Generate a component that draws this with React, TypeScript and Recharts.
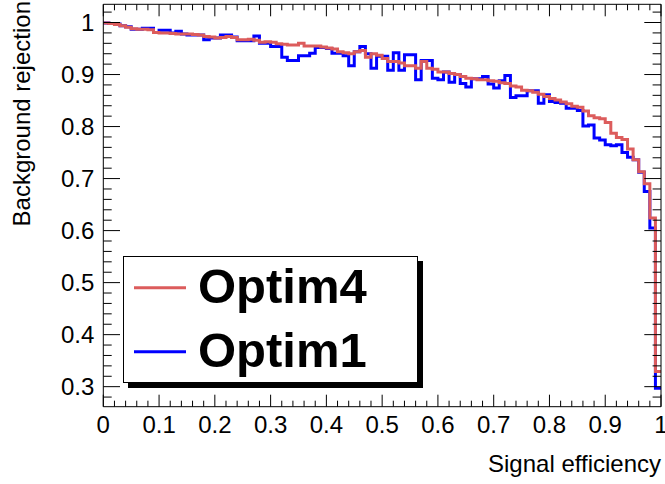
import React from 'react';
import { LineChart, Line, XAxis, YAxis, Legend } from 'recharts';

const W = 665;
const H = 484;
const PL = 103.3;
const PR = 661;
const PT = 4.3;
const PB = 406.7;
const AX = 1; // thickness reserved by each axis
const FONT = '"Liberation Sans", Arial, Helvetica, sans-serif';

// bin edges (100 bins on [0,1]); last edge repeats the last bin value for the step outline
const binEdges = [
  0, 0.01, 0.02, 0.03, 0.04, 0.05, 0.06, 0.07, 0.08, 0.09,
  0.1, 0.11, 0.12, 0.13, 0.14, 0.15, 0.16, 0.17, 0.18, 0.19,
  0.2, 0.21, 0.22, 0.23, 0.24, 0.25, 0.26, 0.27, 0.28, 0.29,
  0.3, 0.31, 0.32, 0.33, 0.34, 0.35, 0.36, 0.37, 0.38, 0.39,
  0.4, 0.41, 0.42, 0.43, 0.44, 0.45, 0.46, 0.47, 0.48, 0.49,
  0.5, 0.51, 0.52, 0.53, 0.54, 0.55, 0.56, 0.57, 0.58, 0.59,
  0.6, 0.61, 0.62, 0.63, 0.64, 0.65, 0.66, 0.67, 0.68, 0.69,
  0.7, 0.71, 0.72, 0.73, 0.74, 0.75, 0.76, 0.77, 0.78, 0.79,
  0.8, 0.81, 0.82, 0.83, 0.84, 0.85, 0.86, 0.87, 0.88, 0.89,
  0.9, 0.91, 0.92, 0.93, 0.94, 0.95, 0.96, 0.97, 0.98, 0.99,
  1.0,
];

const optim4 = [
  0.999, 0.998, 0.996, 0.994, 0.991, 0.988, 0.987, 0.987, 0.986, 0.981,
  0.980, 0.980, 0.979, 0.978, 0.978, 0.978, 0.977, 0.976, 0.973, 0.972,
  0.970, 0.971, 0.973, 0.971, 0.967, 0.967, 0.968, 0.966, 0.962, 0.963,
  0.962, 0.959, 0.958, 0.957, 0.957, 0.960, 0.955, 0.955, 0.955, 0.953,
  0.951, 0.949, 0.944, 0.942, 0.940, 0.944, 0.946, 0.933, 0.940, 0.937,
  0.931, 0.925, 0.925, 0.922, 0.917, 0.917, 0.912, 0.925, 0.912, 0.910,
  0.905, 0.905, 0.902, 0.900, 0.896, 0.893, 0.892, 0.890, 0.890, 0.888,
  0.887, 0.884, 0.883, 0.878, 0.876, 0.870, 0.869, 0.866, 0.862, 0.858,
  0.854, 0.851, 0.847, 0.844, 0.839, 0.837, 0.830, 0.821, 0.817, 0.815,
  0.808, 0.787, 0.779, 0.775, 0.757, 0.736, 0.713, 0.690, 0.624, 0.329,
];

const optim1 = [
  0.999, 0.998, 0.997, 0.994, 0.992, 0.987, 0.987, 0.989, 0.989, 0.981,
  0.985, 0.985, 0.980, 0.983, 0.978, 0.976, 0.976, 0.976, 0.967, 0.970,
  0.970, 0.976, 0.976, 0.972, 0.965, 0.965, 0.965, 0.974, 0.960, 0.960,
  0.954, 0.954, 0.933, 0.927, 0.927, 0.936, 0.936, 0.941, 0.952, 0.952,
  0.950, 0.941, 0.941, 0.936, 0.917, 0.944, 0.954, 0.940, 0.912, 0.935,
  0.935, 0.908, 0.942, 0.908, 0.938, 0.938, 0.890, 0.927, 0.927, 0.893,
  0.890, 0.905, 0.885, 0.900, 0.883, 0.876, 0.892, 0.892, 0.896, 0.882,
  0.874, 0.888, 0.898, 0.856, 0.859, 0.859, 0.869, 0.869, 0.845, 0.861,
  0.848, 0.846, 0.845, 0.835, 0.835, 0.831, 0.801, 0.803, 0.778, 0.774,
  0.765, 0.763, 0.765, 0.750, 0.741, 0.736, 0.712, 0.675, 0.605, 0.297,
];

const seriesNames = ['Optim4', 'Optim1'];
const seriesColors = ['#dc5c5c', '#0000ff'];

const xMajorTicks = [0, 0.1, 0.2, 0.3, 0.4, 0.5, 0.6, 0.7, 0.8, 0.9, 1];
const xTickLabels = ['0', '0.1', '0.2', '0.3', '0.4', '0.5', '0.6', '0.7', '0.8', '0.9', '1'];
const yMajorTicks = [0.3, 0.4, 0.5, 0.6, 0.7, 0.8, 0.9, 1];
const yTickLabels = ['0.3', '0.4', '0.5', '0.6', '0.7', '0.8', '0.9', '1'];
const xTitle = 'Signal efficiency';
const yTitle = 'Background rejection';
const xDomain = [0, 1];
const yDomain = [0.2615, 1.035];

const xAllTicks = Array.from({ length: 51 }, (_, i) => +(i * 0.02).toFixed(2));
const yAllTicks = Array.from({ length: 38 }, (_, i) => +(0.28 + i * 0.02).toFixed(2));

const data = binEdges.map((x, i) => ({
  x,
  optim4: optim4[Math.min(i, optim4.length - 1)],
  optim1: optim1[Math.min(i, optim1.length - 1)],
}));

const majorIndex = (list: number[], v: number) => list.findIndex((t) => Math.abs(t - v) < 1e-6);

const XBottomTick = (props: any) => {
  const { x, y, payload } = props;
  const idx = majorIndex(xMajorTicks, payload.value);
  const major = idx >= 0;
  return (
    <g>
      <line x1={x} x2={x} y1={y} y2={y - (major ? 12 : 6)} stroke="#000" strokeWidth={1} />
      {major && (
        <text x={x} y={y + 26} textAnchor="middle" fontSize={24} fontFamily={FONT} fill="#000">
          {xTickLabels[idx]}
        </text>
      )}
    </g>
  );
};

const XTopTick = (props: any) => {
  const { x, y, payload } = props;
  const major = majorIndex(xMajorTicks, payload.value) >= 0;
  return <line x1={x} x2={x} y1={y} y2={y + (major ? 12 : 6)} stroke="#000" strokeWidth={1} />;
};

const YLeftTick = (props: any) => {
  const { x, y, payload } = props;
  const idx = majorIndex(yMajorTicks, payload.value);
  const major = idx >= 0;
  return (
    <g>
      <line x1={x} x2={x + (major ? 16.7 : 8.4)} y1={y} y2={y} stroke="#000" strokeWidth={1} />
      {major && (
        <text x={x - 9} y={y + 8.5} textAnchor="end" fontSize={24} fontFamily={FONT} fill="#000">
          {yTickLabels[idx]}
        </text>
      )}
    </g>
  );
};

const YRightTick = (props: any) => {
  const { x, y, payload } = props;
  const major = majorIndex(yMajorTicks, payload.value) >= 0;
  return <line x1={x} x2={x - (major ? 16.7 : 8.4)} y1={y} y2={y} stroke="#000" strokeWidth={1} />;
};

const XTitle = () => (
  <text x={PR} y={472} textAnchor="end" fontSize={24} fontFamily={FONT} fill="#000">
    {xTitle}
  </text>
);

const YTitle = () => (
  <text transform="translate(29.5, 1) rotate(-90)" x={0} y={0} textAnchor="end" fontSize={24} fontFamily={FONT} fill="#000">
    {yTitle}
  </text>
);

const LegendBox = (props: any) => {
  const payload = (props.payload || []).slice();
  payload.sort((a: any, b: any) => seriesNames.indexOf(a.value) - seriesNames.indexOf(b.value));
  return (
    <div
      style={{
        position: 'relative',
        width: 295,
        height: 127,
        background: '#fff',
        border: '1px solid #000',
        boxShadow: '5px 5px 0 0 #000',
        boxSizing: 'border-box',
      }}
    >
      <svg width={295} height={127} style={{ position: 'absolute', left: -1, top: -1 }}>
        {payload.map((p: any, i: number) => {
          const ly = 31.7 + i * 64;
          return (
            <g key={p.value}>
              <line x1={11} x2={63} y1={ly} y2={ly} stroke={p.color} strokeWidth={3} />
              <text x={75} y={ly + 15} fontSize={49} fontWeight="bold" fontFamily={FONT} fill="#000">
                {p.value}
              </text>
            </g>
          );
        })}
      </svg>
    </div>
  );
};

export default function App() {
  return (
    <div style={{ position: 'absolute', left: 0, top: 0, width: W, height: H, background: '#fff' }}>
      <LineChart
        width={W}
        height={H}
        data={data}
        margin={{ top: PT - AX, right: W - PR - AX, bottom: H - PB - AX, left: PL - AX }}
      >
        <XAxis
          xAxisId="b"
          dataKey="x"
          type="number"
          domain={xDomain}
          ticks={xAllTicks}
          interval={0}
          height={AX}
          tickSize={0}
          tickMargin={0}
          tickLine={false}
          tick={XBottomTick}
          axisLine={{ stroke: '#000', strokeWidth: 1 }}
          allowDataOverflow
          label={{ content: XTitle }}
        />
        <XAxis
          xAxisId="t"
          orientation="top"
          dataKey="x"
          type="number"
          domain={xDomain}
          ticks={xAllTicks}
          interval={0}
          height={AX}
          tickSize={0}
          tickMargin={0}
          tickLine={false}
          tick={XTopTick}
          axisLine={{ stroke: '#000', strokeWidth: 1 }}
          allowDataOverflow
        />
        <YAxis
          yAxisId="l"
          type="number"
          domain={yDomain}
          ticks={yAllTicks}
          interval={0}
          width={AX}
          tickSize={0}
          tickMargin={0}
          tickLine={false}
          tick={YLeftTick}
          axisLine={{ stroke: '#000', strokeWidth: 1 }}
          allowDataOverflow
          label={{ content: YTitle }}
        />
        <YAxis
          yAxisId="r"
          orientation="right"
          type="number"
          domain={yDomain}
          ticks={yAllTicks}
          interval={0}
          width={AX}
          tickSize={0}
          tickMargin={0}
          tickLine={false}
          tick={YRightTick}
          axisLine={{ stroke: '#000', strokeWidth: 1 }}
          allowDataOverflow
        />
        <Line
          xAxisId="b"
          yAxisId="l"
          type="stepAfter"
          dataKey="optim1"
          name={seriesNames[1]}
          stroke={seriesColors[1]}
          strokeWidth={3}
          dot={false}
          activeDot={false}
          isAnimationActive={false}
        />
        <Line
          xAxisId="b"
          yAxisId="l"
          type="stepAfter"
          dataKey="optim4"
          name={seriesNames[0]}
          stroke={seriesColors[0]}
          strokeWidth={3}
          dot={false}
          activeDot={false}
          isAnimationActive={false}
        />
        <Legend
          layout="vertical"
          verticalAlign="middle"
          align="center"
          wrapperStyle={{ left: 123.3, top: 256, width: 296, height: 128, margin: 0 }}
          content={LegendBox}
        />
      </LineChart>
    </div>
  );
}
